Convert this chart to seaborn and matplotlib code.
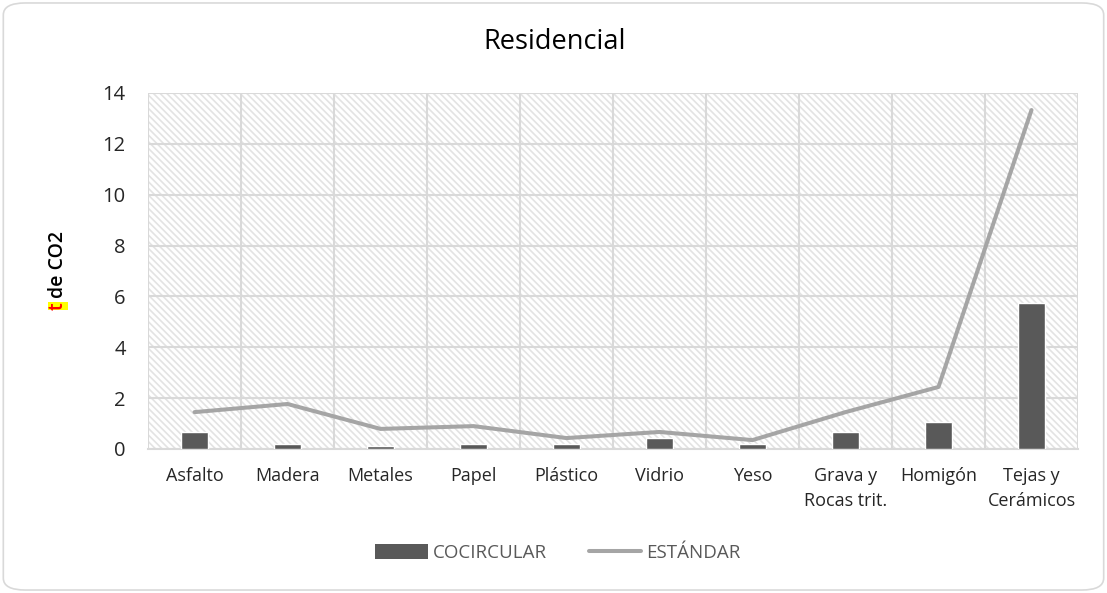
import numpy as np
import matplotlib
matplotlib.use("Agg")
import matplotlib.pyplot as plt
import seaborn as sns
import pandas as pd
from matplotlib.patches import FancyBboxPatch, Rectangle
from matplotlib.lines import Line2D
from matplotlib.patches import Patch

# data
categories = ['Asfalto', 'Madera', 'Metales', 'Papel', 'Plástico', 'Vidrio', 'Yeso',
              'Grava y\nRocas trit.', 'Homigón', 'Tejas y\nCerámicos']
cocircular = [0.65, 0.21, 0.13, 0.21, 0.21, 0.44, 0.21, 0.65, 1.08, 5.75]
estandar = [1.45, 1.77, 0.79, 0.90, 0.43, 0.67, 0.35, 1.45, 2.44, 13.33]
yticks = [0, 2, 4, 6, 8, 10, 12, 14]

df = pd.DataFrame({'material': categories, 'COCIRCULAR': cocircular, 'ESTÁNDAR': estandar})

sns.set_theme(style='white')
plt.rcParams['font.family'] = ['Open Sans', 'DejaVu Sans']
plt.rcParams['hatch.linewidth'] = 1.2
plt.rcParams['hatch.color'] = '#e3e3e3'

fig = plt.figure(figsize=(11.07, 5.93), dpi=100)
ax = fig.add_axes([148 / 1107, 1 - 449 / 593, (1078 - 148) / 1107, (449 - 93) / 593])

# hatched plot area background
ax.add_patch(Rectangle((0, 0), 1, 1, transform=ax.transAxes, facecolor='white',
                       edgecolor='#e3e3e3', hatch='\\\\\\\\\\', lw=0, zorder=0))

sns.barplot(data=df, x='material', y='COCIRCULAR', color='#595959', width=0.28,
            saturation=1, ax=ax, zorder=3)
ax.plot(np.arange(len(categories)), df['ESTÁNDAR'], color='#a5a5a5', lw=2.9,
        solid_capstyle='round', zorder=4)

ax.set_xlim(-0.5, len(categories) - 0.5)
ax.set_ylim(0, 14)
ax.set_yticks(yticks)
ax.set_yticklabels([str(v) for v in yticks], fontsize=14.5, color='#262626')
ax.set_xticks(np.arange(len(categories)))
ax.set_xticklabels(categories, fontsize=13, color='#262626', linespacing=1.5)
ax.set_xticks(np.arange(-0.5, len(categories)), minor=True)
ax.tick_params(axis='x', which='major', length=0, pad=13)
ax.tick_params(axis='x', which='minor', length=5, color='#d9d9d9', width=1.5)
ax.tick_params(axis='y', length=0, pad=16)
ax.grid(True, axis='y', color='#d9d9d9', lw=1.5, zorder=1)
ax.grid(True, axis='x', which='minor', color='#d9d9d9', lw=1.5, zorder=1)
ax.grid(False, axis='x', which='major')
ax.set_axisbelow(True)
for s in ax.spines.values():
    s.set_visible(False)
ax.spines['bottom'].set_visible(True)
ax.spines['bottom'].set_color('#d9d9d9')
ax.spines['bottom'].set_linewidth(1.5)
ax.set_xlabel('')
ax.set_ylabel('')

fig.text(555 / 1107, 1 - 42 / 593, 'Residencial', ha='center', va='center',
         fontsize=19.5, color='#000000')

# y-axis label with highlighted "t"
fig.text(58 / 1107, 1 - 306 / 593, 't', rotation=90, ha='center', va='center',
         fontsize=14, color='red', fontweight='semibold',
         bbox=dict(facecolor='yellow', edgecolor='none', pad=0.3))
fig.text(58 / 1107, 1 - 264 / 593, 'de CO2', rotation=90, ha='center', va='center',
         fontsize=14, color='black', fontweight='semibold')

handles = [Patch(facecolor='#595959', edgecolor='none'),
           Line2D([0], [0], color='#a5a5a5', lw=2.9, solid_capstyle='round')]
fig.legend(handles, ['COCIRCULAR', 'ESTÁNDAR'], loc='center', ncol=2,
           bbox_to_anchor=(558 / 1107, 1 - 553 / 593), frameon=False,
           fontsize=13.5, labelcolor='#595959', handlelength=2.8, handleheight=0.8,
           columnspacing=2.2, handletextpad=0.3)

fig.patches.append(FancyBboxPatch((0.003, 0.005), 0.994, 0.99, boxstyle='round,pad=0,rounding_size=0.02',
                                  transform=fig.transFigure, facecolor='none',
                                  edgecolor='#d9d9d9', lw=1.2, figure=fig))

fig.savefig('out.png', dpi=100, facecolor='white')
